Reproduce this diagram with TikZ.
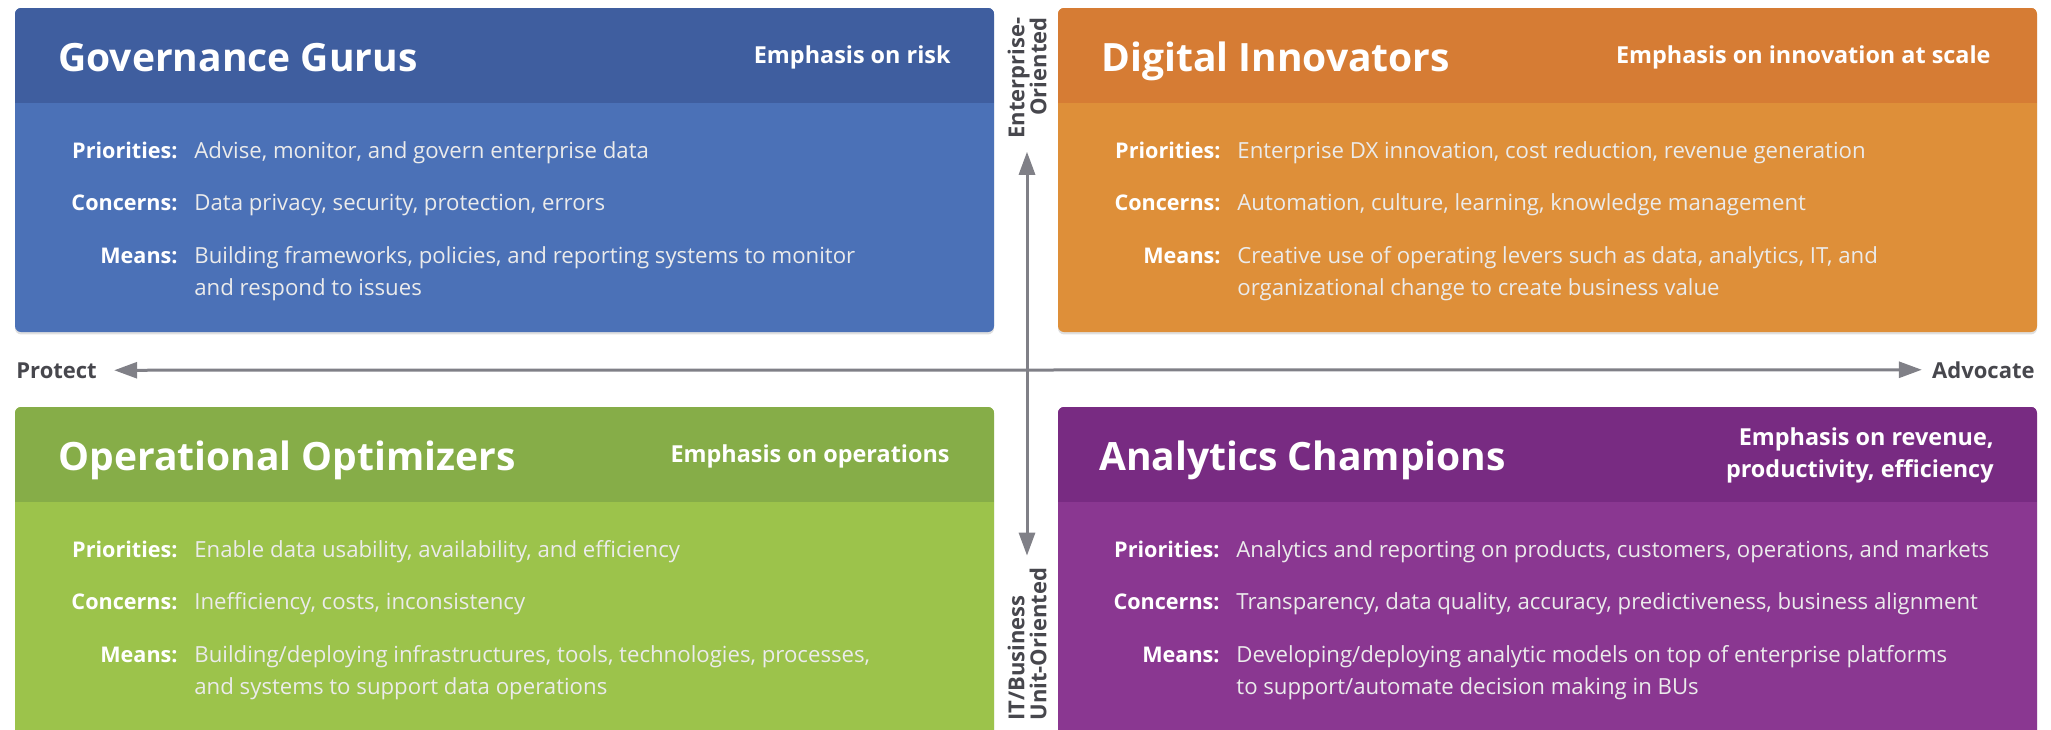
\documentclass[tikz,border=0pt]{standalone}
\usepackage{fontspec}
\setmainfont{Open Sans}
\usepackage{tikz}
\usetikzlibrary{arrows.meta}
\usetikzlibrary{shadows}

\definecolor{gurushead}{HTML}{3F5E9F}
\definecolor{gurusbody}{HTML}{4B71B7}
\definecolor{innovhead}{HTML}{D67C34}
\definecolor{innovbody}{HTML}{DE8F39}
\definecolor{optimhead}{HTML}{86AD48}
\definecolor{optimbody}{HTML}{9CC34B}
\definecolor{champhead}{HTML}{782B82}
\definecolor{champbody}{HTML}{8A3791}
\definecolor{axisgray}{HTML}{808087}
\definecolor{labelgray}{HTML}{47474D}

\begin{document}
\begin{tikzpicture}[x=0.5pt, y=-0.5pt,
    quad/.style={rounded corners=3pt, drop shadow={shadow xshift=0pt, shadow yshift=-1.2pt, opacity=.25}},
    title/.style={anchor=base west, inner sep=0, text=white, font=\fontsize{19.5}{22}\selectfont\bfseries},
    emph/.style={anchor=base east, inner sep=0, text=white, align=right, font=\fontsize{11.7}{16}\selectfont\bfseries},
    lbl/.style={anchor=base east, inner sep=0, text=white, font=\fontsize{10.8}{16}\selectfont\bfseries},
    txt/.style={anchor=base west, inner sep=0, text=white!92!black, align=left, font=\fontsize{11.1}{16}\selectfont},
    axislbl/.style={inner sep=0, text=labelgray, font=\fontsize{11}{11}\selectfont\bfseries},
    axis/.style={draw=axisgray, line width=1.5pt, {Triangle[length=11.5pt, width=8pt]}-{Triangle[length=11.5pt, width=8pt]}}]
    \useasboundingbox (0,0) rectangle (2051,729);
    \clip (0,0) rectangle (2051,729);

    % Governance Gurus
    \path[quad, fill=gurusbody] (15,8) rectangle (994,332);
    \begin{scope}
        \clip[rounded corners=3pt] (15,8) rectangle (994,332);
        \fill[gurushead] (15,8) rectangle (994,103);
    \end{scope}
    \node[title] (gurus) at (58,71) {Governance Gurus};
    \node[emph] (gurusemph) at (951,63) {Emphasis on risk};
    \node[lbl] (guruspri) at (178,158) {Priorities:};
    \node[txt] at (194,158) {Advise, monitor, and govern enterprise data};
    \node[lbl] (guruscon) at (178,210) {Concerns:};
    \node[txt] at (194,210) {Data privacy, security, protection, errors};
    \node[lbl] (gurusmea) at (178,263) {Means:};
    \node[txt] at (194,295) {Building frameworks, policies, and reporting systems to monitor\\and respond to issues};

    % Digital Innovators
    \path[quad, fill=innovbody] (1058,8) rectangle (2037,332);
    \begin{scope}
        \clip[rounded corners=3pt] (1058,8) rectangle (2037,332);
        \fill[innovhead] (1058,8) rectangle (2037,103);
    \end{scope}
    \node[title] (innov) at (1101,71) {Digital Innovators};
    \node[emph] (innovemph) at (1991,63) {Emphasis on innovation at scale};
    \node[lbl] (innovpri) at (1221,158) {Priorities:};
    \node[txt] at (1237,158) {Enterprise DX innovation, cost reduction, revenue generation};
    \node[lbl] (innovcon) at (1221,210) {Concerns:};
    \node[txt] at (1237,210) {Automation, culture, learning, knowledge management};
    \node[lbl] (innovmea) at (1221,263) {Means:};
    \node[txt] at (1237,295) {Creative use of operating levers such as data, analytics, IT, and\\organizational change to create business value};

    % Operational Optimizers
    \path[quad, fill=optimbody] (15,407) rectangle (994,745);
    \begin{scope}
        \clip[rounded corners=3pt] (15,407) rectangle (994,745);
        \fill[optimhead] (15,407) rectangle (994,502);
    \end{scope}
    \node[title] (optim) at (58,470) {Operational Optimizers};
    \node[emph] (optimemph) at (950,462) {Emphasis on operations};
    \node[lbl] (optimpri) at (178,557) {Priorities:};
    \node[txt] at (194,557) {Enable data usability, availability, and efficiency};
    \node[lbl] (optimcon) at (178,609) {Concerns:};
    \node[txt] at (194,609) {Inefficiency, costs, inconsistency};
    \node[lbl] (optimmea) at (178,662) {Means:};
    \node[txt] at (194,694) {Building/deploying infrastructures, tools, technologies, processes,\\and systems to support data operations};

    % Analytics Champions
    \path[quad, fill=champbody] (1058,407) rectangle (2037,745);
    \begin{scope}
        \clip[rounded corners=3pt] (1058,407) rectangle (2037,745);
        \fill[champhead] (1058,407) rectangle (2037,502);
    \end{scope}
    \node[title] (champ) at (1099,470) {Analytics Champions};
    \node[emph] (champemph) at (1994,477) {Emphasis on revenue,\\productivity, efficiency};
    \node[lbl] (champpri) at (1220,557) {Priorities:};
    \node[txt] at (1236,557) {Analytics and reporting on products, customers, operations, and markets};
    \node[lbl] (champcon) at (1220,609) {Concerns:};
    \node[txt] at (1236,609) {Transparency, data quality, accuracy, predictiveness, business alignment};
    \node[lbl] (champmea) at (1220,662) {Means:};
    \node[txt] at (1236,694) {Developing/deploying analytic models on top of enterprise platforms\\to support/automate decision making in BUs};

    % axes
    \node[axislbl, anchor=base west] (protect) at (16,378) {Protect};
    \node[axislbl, anchor=base east] (advocate) at (2035,378) {Advocate};
    \draw[axis, shorten <=8.5pt, shorten >=5pt] (protect.east) -- (advocate.west);
    \node[axislbl, rotate=90, align=right, anchor=east, inner sep=6.5pt] (enterprise) at (1027,4) {Enterprise-\\Oriented};
    \node[axislbl, rotate=90, align=left, anchor=west, inner sep=6pt] (unit) at (1027,733) {IT/Business\\Unit-Oriented};
    \draw[axis] (enterprise.west) -- (enterprise.west |- unit.east);
\end{tikzpicture}
\end{document}
